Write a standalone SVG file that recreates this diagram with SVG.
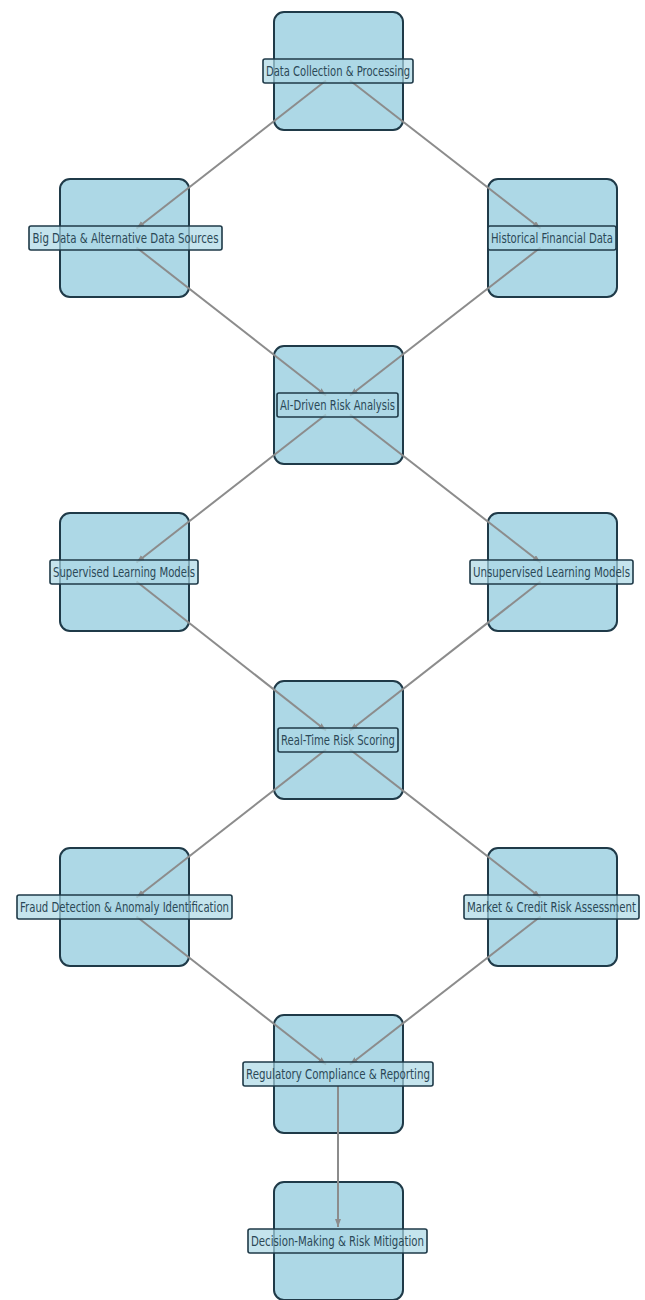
<svg xmlns="http://www.w3.org/2000/svg" width="645" height="1300" viewBox="0 0 645 1300">
  <style>
    .node { fill: #add8e6; stroke: #1f3a48; stroke-width: 2; }
    .edge { stroke: #8c8c8c; stroke-width: 2; fill: none; marker-end: url(#arrow); }
    .lbox { fill: #add8e6; fill-opacity: 0.7; stroke: #1f3a48; stroke-width: 1.6; }
    .ltxt { font-family: "DejaVu Sans", "Liberation Sans", sans-serif; font-size: 13.5px; fill: #2b4856; text-anchor: middle; }
  </style>
  <defs>
    <marker id="arrow" markerUnits="userSpaceOnUse" markerWidth="9" markerHeight="7" refX="8" refY="3" orient="auto">
      <path d="M0,0 L8,3 L0,6 z" fill="#8c8c8c"/>
    </marker>
  </defs>
  <rect width="645" height="1300" fill="#ffffff"/>

  <!-- node boxes -->
  <g id="node-boxes">
    <rect class="node" x="274" y="12" width="129" height="118" rx="10"/>
    <rect class="node" x="60" y="179" width="129" height="118" rx="10"/>
    <rect class="node" x="488" y="179" width="129" height="118" rx="10"/>
    <rect class="node" x="274" y="346" width="129" height="118" rx="10"/>
    <rect class="node" x="60" y="513" width="129" height="118" rx="10"/>
    <rect class="node" x="488" y="513" width="129" height="118" rx="10"/>
    <rect class="node" x="274" y="681" width="129" height="118" rx="10"/>
    <rect class="node" x="60" y="848" width="129" height="118" rx="10"/>
    <rect class="node" x="488" y="848" width="129" height="118" rx="10"/>
    <rect class="node" x="274" y="1015" width="129" height="118" rx="10"/>
    <rect class="node" x="274" y="1182" width="129" height="118" rx="10"/>
  </g>

  <!-- connectors, shortened a little at each end around the node centres -->
  <g id="edges">
    <line class="edge" x1="326" y1="80.5" x2="136.5" y2="228.5"/>
    <line class="edge" x1="350" y1="80.5" x2="540.5" y2="228.5"/>
    <line class="edge" x1="136.5" y1="247.5" x2="326" y2="395.5"/>
    <line class="edge" x1="540.5" y1="247.5" x2="350" y2="395.5"/>
    <line class="edge" x1="326" y1="414.5" x2="136.5" y2="562.5"/>
    <line class="edge" x1="350" y1="414.5" x2="540.5" y2="562.5"/>
    <line class="edge" x1="136.5" y1="581.5" x2="326" y2="730.5"/>
    <line class="edge" x1="540.5" y1="581.5" x2="350" y2="730.5"/>
    <line class="edge" x1="326" y1="749.5" x2="136.5" y2="897.5"/>
    <line class="edge" x1="350" y1="749.5" x2="540.5" y2="897.5"/>
    <line class="edge" x1="136.5" y1="916.5" x2="326" y2="1064.5"/>
    <line class="edge" x1="540.5" y1="916.5" x2="350" y2="1064.5"/>
    <line class="edge" x1="338" y1="1086" x2="338" y2="1227"/>
  </g>

  <!-- labels: text is set in a horizontally condensed frame -->
  <g id="n-data-collection">
    <rect class="lbox" x="263" y="59" width="150" height="24" rx="2"/>
    <text class="ltxt" transform="translate(338,76) scale(0.76,1)" textLength="189.5" lengthAdjust="spacingAndGlyphs">Data Collection &amp; Processing</text>
  </g>
  <g id="n-big-data">
    <rect class="lbox" x="29" y="226" width="193" height="24" rx="2"/>
    <text class="ltxt" transform="translate(125.5,243) scale(0.76,1)" textLength="244.7" lengthAdjust="spacingAndGlyphs">Big Data &amp; Alternative Data Sources</text>
  </g>
  <g id="n-historical">
    <rect class="lbox" x="488" y="226" width="128" height="24" rx="2"/>
    <text class="ltxt" transform="translate(552,243) scale(0.76,1)" textLength="160.5" lengthAdjust="spacingAndGlyphs">Historical Financial Data</text>
  </g>
  <g id="n-ai-risk">
    <rect class="lbox" x="277" y="393" width="121" height="24" rx="2"/>
    <text class="ltxt" transform="translate(337.5,410) scale(0.76,1)" textLength="151.3" lengthAdjust="spacingAndGlyphs">AI-Driven Risk Analysis</text>
  </g>
  <g id="n-supervised">
    <rect class="lbox" x="50" y="560" width="148" height="24" rx="2"/>
    <text class="ltxt" transform="translate(124,577) scale(0.76,1)" textLength="186.8" lengthAdjust="spacingAndGlyphs">Supervised Learning Models</text>
  </g>
  <g id="n-unsupervised">
    <rect class="lbox" x="470" y="560" width="163" height="24" rx="2"/>
    <text class="ltxt" transform="translate(551.5,577) scale(0.76,1)" textLength="206.6" lengthAdjust="spacingAndGlyphs">Unsupervised Learning Models</text>
  </g>
  <g id="n-scoring">
    <rect class="lbox" x="278" y="728" width="120" height="24" rx="2"/>
    <text class="ltxt" transform="translate(338,745) scale(0.76,1)" textLength="150" lengthAdjust="spacingAndGlyphs">Real-Time Risk Scoring</text>
  </g>
  <g id="n-fraud">
    <rect class="lbox" x="17" y="895" width="215" height="24" rx="2"/>
    <text class="ltxt" transform="translate(124.5,912) scale(0.76,1)" textLength="275" lengthAdjust="spacingAndGlyphs">Fraud Detection &amp; Anomaly Identification</text>
  </g>
  <g id="n-market">
    <rect class="lbox" x="464" y="895" width="175" height="24" rx="2"/>
    <text class="ltxt" transform="translate(551.5,912) scale(0.76,1)" textLength="222.4" lengthAdjust="spacingAndGlyphs">Market &amp; Credit Risk Assessment</text>
  </g>
  <g id="n-regulatory">
    <rect class="lbox" x="243" y="1062" width="190" height="24" rx="2"/>
    <text class="ltxt" transform="translate(338,1079) scale(0.76,1)" textLength="242.1" lengthAdjust="spacingAndGlyphs">Regulatory Compliance &amp; Reporting</text>
  </g>
  <g id="n-decision">
    <rect class="lbox" x="248" y="1229" width="179" height="24" rx="2"/>
    <text class="ltxt" transform="translate(337.5,1246) scale(0.76,1)" textLength="227.6" lengthAdjust="spacingAndGlyphs">Decision-Making &amp; Risk Mitigation</text>
  </g>
</svg>
